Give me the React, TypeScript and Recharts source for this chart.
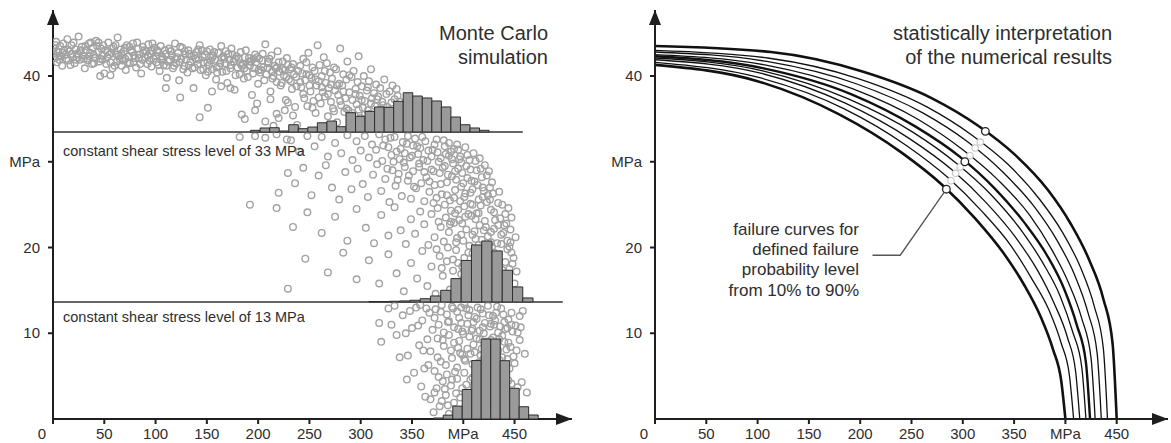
import React from "react";
import {
  ComposedChart,
  Scatter,
  Line,
  XAxis,
  YAxis,
  ReferenceArea,
  ReferenceLine,
  ReferenceDot,
} from "recharts";

// axis ticks
const xTicks = [0, 50, 100, 150, 200, 250, 300, 350, 400, 450];
const xTickLabels = ["0", "50", "100", "150", "200", "250", "300", "350", "MPa", "450"];
const yTicks = [10, 20, 30, 40];
const yTickLabels = ["10", "20", "MPa", "40"];

// constant shear stress levels (drawn positions) and their line ends
const levelHigh = 33.47;
const levelLow = 13.65;
const levelHighEnd = 458;
const levelLowEnd = 497;

// Monte Carlo points (normal stress, shear stress)
const pointsBand: [number, number][] = [
  [1,43.2],[2,42.1],[3,44.0],[4,41.6],[5,42.8],[7,43.5],[8,42.3],[9,41.2],[11,43.0],[12,42.5],[14,44.3],[15,41.8],[16,42.9],[18,43.6],[19,42.2],[21,41.5],[22,43.1],[24,42.6],[25,44.6],[26,41.9],[28,43.4],[29,42.4],[31,40.9],[32,43.0],[33,42.0],[35,43.8],[36,42.7],[38,41.4],[39,43.3],[41,42.1],[42,44.1],[44,42.8],[45,41.7],[47,43.2],[48,42.4],[50,40.3],
  [51,43.0],[53,42.2],[54,43.9],[56,41.6],[57,42.7],[59,43.4],[60,41.2],[62,42.5],[63,44.5],[65,42.0],[66,43.1],[68,41.8],[69,42.9],[71,40.7],[72,43.6],[74,42.3],[75,41.5],[77,42.8],[78,43.8],[80,42.1],[81,41.0],[83,43.2],[84,42.5],[86,40.3],[87,41.9],[89,43.0],[90,42.2],[92,41.4],[93,43.7],[95,42.6],[96,41.1],[98,42.0],[99,43.3],
  [101,41.6],[102,42.8],[104,40.6],[105,43.5],[107,42.1],[108,41.3],[110,42.6],[111,39.8],[113,43.2],[114,41.9],[116,42.4],[117,40.9],[119,43.8],[120,41.5],[122,42.7],[123,39.5],[125,42.0],[126,43.3],[128,41.2],[129,42.5],[131,40.4],[132,43.0],[134,41.7],[135,42.3],[137,38.6],[138,41.0],[140,42.8],[141,41.4],[143,43.6],[144,40.7],[146,42.2],[147,41.6],[149,40.1],[150,42.9],
  [152,41.3],[153,43.1],[155,40.8],[156,42.4],[158,41.9],[159,39.6],[161,42.7],[162,41.1],[164,43.5],[165,40.5],[167,42.0],[168,41.5],[170,39.2],[171,42.6],[173,40.9],[174,43.2],[176,41.7],[177,38.4],[179,42.3],[180,41.0],[182,40.2],[183,42.8],[185,41.4],[186,39.7],[188,43.0],[189,40.6],[191,42.1],[192,41.2],[194,37.8],[195,40.3],[197,42.5],[198,41.6],[200,39.1],
  [201,42.0],[203,40.7],[204,41.8],[206,39.5],[207,43.7],[209,40.9],[210,41.5],[212,38.2],[213,42.4],[215,40.0],[216,41.2],[218,39.3],[219,42.9],[221,40.5],[222,38.9],[224,41.7],[225,40.1],[227,37.2],[228,42.1],[230,39.6],[231,40.8],[233,38.5],[234,41.4],[236,36.4],[237,39.9],[239,40.6],
  [0.5,42.6],[3.5,42.9],[6,41.9],[10,43.8],[13,42.0],[17,41.3],[20,43.9],[23,42.2],[27,43.0],[30,42.0],[34,41.8],[37,43.9],[40,41.5],[43,43.5],[46,42.0],[49,43.6],[52,41.4],[55,42.5],[58,40.9],[61,43.6],[64,42.3],[67,41.2],[70,43.3],[73,41.6],[76,43.0],[79,42.4],[82,43.9],[85,41.4],[88,42.7],[91,42.9],[94,41.8],[97,43.8],[100,42.4],[103,41.3],[106,42.3],[109,43.0],[112,41.7],[115,42.9],[118,41.2],[121,42.2],[124,43.4],[127,40.8],[130,41.9],[133,42.6],[136,40.9],[139,42.0],[142,41.9],[145,43.0],[148,42.5],[151,40.5],[154,41.8],[157,42.8],[160,40.4],[163,41.5],[166,42.3],[169,40.6],[172,41.9],[175,42.5],[178,40.1],[181,42.0],[184,41.2],[187,42.2],[190,39.9],[193,41.7],[196,40.9],[199,42.2],[202,40.4],[205,41.0],[208,40.2],[211,42.0],[214,39.7],[217,40.9],[220,41.6],[223,39.2],[226,40.7],[229,41.3],[232,39.4],[235,40.2],
  [2.5,43.6],[6.5,42.4],[9.5,42.7],[14.5,43.1],[18.5,42.6],[22.5,41.9],[26.5,42.9],[31.5,43.5],[35.5,42.3],[39.5,42.5],[44.5,43.9],[48.5,41.9],[53.5,42.8],[57.5,43.2],[62.5,41.7],[66.5,42.6],[70.5,42.0],[74.5,43.4],[78.5,41.6],[83.5,42.1],[87.5,43.4],[92.5,42.4],[96.5,42.9],[101.5,43.0],[105.5,41.9],[110.5,41.2],[114.5,42.9],[119.5,42.0],[123.5,41.6],[128.5,42.9],[132.5,41.3],[137.5,42.4],[141.5,43.1],[146.5,40.8],[150.5,41.6],[155.5,42.2],[159.5,41.0],[164.5,42.1],[168.5,42.9],[173.5,41.3],[177.5,42.0],[182.5,41.5],[186.5,40.9],[191.5,41.7],[195.5,42.0],[200.5,40.7],[204.5,42.6],[209.5,41.7],[213.5,40.5],[218.5,41.0],[223.5,40.8],[227.5,39.9],[232.5,41.0],[237.5,38.8],
  [46,40.0],[56,40.1],[110,38.6],[124,37.5],[143,35.2],[151,36.3],[155,38.2],[164,38.8],[173,38.6],[184,35.5],[187,35.0],[197,36.0],[199,36.8],[207,34.7],[212,37.3],[218,35.6],[220,35.1],[226,36.0],[229,36.9],[234,35.4],[238,34.3],
];

const pointsUpper: [number, number][] = [
  [241,41.2],[242,38.7],[243,40.3],[244,42.0],[245,37.4],[246,39.5],[247,41.6],[248,36.5],[249,42.7],[250,40.1],[251,38.2],[252,39.8],[253,41.0],[254,37.1],[255,40.6],[256,35.7],[257,38.9],[258,43.6],[259,39.4],[260,41.3],[261,36.8],[262,40.0],[263,38.1],[264,42.2],[265,37.6],[266,39.2],[267,41.5],[268,35.3],[269,38.6],[270,40.4],[271,37.0],[272,39.7],[273,36.2],[274,41.0],[275,38.3],[276,40.8],[277,34.6],[278,37.8],[279,39.1],[280,43.2],[281,36.6],[282,38.9],[283,40.2],[284,35.8],[285,37.4],[286,39.6],[287,41.7],[288,36.0],[289,38.1],[290,34.9],[291,39.9],[292,37.2],[293,40.6],[294,35.4],[295,38.5],[296,36.7],[297,39.3],[298,42.3],[299,37.7],[300,35.1],[301,38.8],[302,36.3],[303,40.0],[304,37.1],[305,34.4],[306,38.3],[307,36.0],[308,39.4],[309,35.6],[310,40.8],[311,37.4],[312,34.1],[313,38.0],[314,36.5],[315,39.0],[316,35.2],[317,37.6],[318,34.0],[319,38.6],[320,36.1],[321,37.0],[322,34.8],[323,39.6],[324,35.7],[325,37.9],[326,36.4],[327,34.3],[328,38.2],[329,35.0],[330,36.9],[331,38.9],[332,34.6],[333,37.3],[334,35.5],[335,38.5],[336,36.2],[337,34.1],[338,37.0],[340,35.3],[342,36.6],[344,34.5],
  [241,39.3],[244,37.9],[247,40.2],[250,38.9],[253,36.3],[256,39.6],[259,37.5],[262,38.7],[265,40.6],[268,37.9],[271,39.0],[274,35.9],[277,38.9],[280,37.1],[283,38.2],[286,36.2],[289,40.1],[292,35.7],[295,37.9],[298,36.1],[301,37.2],[304,35.5],[307,38.7],[310,36.8],[313,35.4],[316,37.3],[319,35.3],[322,36.6],[325,34.5],[328,36.0],[331,35.8],[334,34.2],[336,37.7],[339,35.9],[341,34.6],
  [182,32.9],[197,33.0],[207,32.8],[215,34.2],[218,33.2],[228,32.6],
];

const pointsMiddle: [number, number][] = [
  [232,32.5],[240,31.2],[248,33.0],[255,31.8],[262,32.9],[268,30.6],[275,32.2],[281,31.0],[287,33.1],[292,30.2],[296,32.4],[300,31.3],[304,33.0],[308,30.5],[311,32.0],[315,31.4],[318,33.2],[321,30.1],[324,32.6],[327,31.7],[330,30.8],[333,32.9],[335,31.2],[338,30.3],[341,32.3],[343,31.0],[346,33.0],[348,30.5],[351,31.9],[353,32.7],[356,30.9],[358,31.6],[361,30.2],[363,32.4],[366,31.3],[369,30.6],[372,32.0],[375,31.1],[378,30.4],[382,31.8],[386,30.7],[391,31.5],[396,30.3],
  [220,26.4],[229,28.7],[236,27.5],[244,29.3],[252,26.1],[259,28.4],[266,29.6],[272,27.0],[279,25.6],[285,28.8],[291,26.8],[297,29.2],[302,27.4],[307,25.9],[312,28.5],[316,29.7],[320,26.6],[324,28.0],[328,25.3],[331,29.0],[334,27.2],[337,28.6],[340,26.0],[343,29.4],[346,27.8],[349,25.7],[351,28.9],[354,26.9],[357,29.8],[359,27.5],[362,25.4],[364,28.2],[367,26.5],[369,29.1],[372,27.3],[374,25.8],[377,28.7],[379,26.2],[382,29.5],[384,27.6],[387,25.5],[389,28.3],[392,26.7],[395,29.2],[398,27.1],[401,25.9],[404,28.1],[407,26.4],[411,27.7],[415,25.6],[419,27.0],[424,26.1],[429,26.3],
  [192,25.0],[218,24.6],[234,22.4],[248,24.1],[262,21.7],[275,23.6],[287,20.8],[296,24.5],[305,22.3],[313,20.5],[320,23.8],[327,21.4],[333,24.7],[339,22.0],[344,20.4],[349,23.3],[353,21.6],[358,24.2],[362,22.7],[366,20.3],[369,23.9],[372,21.2],[375,24.6],[378,22.4],[381,20.7],[383,23.5],[386,21.8],[388,24.3],[391,22.9],[393,20.6],[396,23.2],[398,21.5],[401,24.8],[403,22.1],[406,20.2],[408,23.7],[411,21.9],[413,24.0],[416,22.6],[418,20.9],[421,23.1],[424,21.3],[427,24.4],[430,22.2],[433,20.5],[436,23.4],[439,21.7],[442,22.8],[446,20.6],
  [229,15.2],[246,18.7],[268,17.1],[283,19.4],[296,16.3],[308,18.5],[318,15.8],[327,19.2],[335,17.0],[342,14.9],[349,18.2],[355,16.4],[360,19.6],[365,15.5],[369,17.8],[373,14.6],[377,19.0],[380,16.7],[384,18.4],[387,15.1],[390,17.3],[393,19.7],[396,14.4],[398,16.9],[401,18.8],[404,15.7],[406,17.6],[409,19.3],[411,14.8],[414,16.2],[416,18.1],[419,15.4],[421,19.5],[423,17.0],[426,14.5],[428,18.6],[431,16.0],[433,19.0],[436,15.2],[438,17.4],[441,18.3],[444,16.1],[447,19.4],[449,14.9],[452,17.2],
  [322,31.9],[326,29.2],[329,32.8],[332,30.0],[336,27.9],[339,31.5],[342,29.9],[345,32.1],[347,28.4],[350,30.7],[352,27.1],[355,31.8],[357,29.4],[360,32.9],[362,28.8],[365,30.1],[367,27.7],[370,31.4],[371,28.9],[374,32.6],[376,30.0],[378,27.4],[380,29.3],[381,32.5],[383,30.9],[385,28.5],[388,31.2],[390,29.8],[393,27.9],[394,32.0],[397,30.6],[399,28.7],[402,31.7],[403,29.5],[406,30.2],[408,27.8],[410,31.0],[413,29.0],[416,30.4],[418,28.2],[421,29.6],[425,28.9],[428,27.6],
  [371,25.2],[374,19.8],[376,23.0],[379,17.6],[382,25.0],[385,20.0],[387,22.7],[390,18.6],[392,24.0],[394,21.1],[397,25.4],[399,17.8],[400,20.8],[402,23.6],[405,19.4],[407,25.1],[409,21.5],[410,16.7],[412,23.3],[415,20.3],[417,24.9],[418,17.9],[420,22.0],[422,15.9],[423,25.3],[425,19.0],[427,21.8],[429,16.9],[430,24.1],[432,18.2],[434,22.6],[435,14.9],[437,20.4],[438,25.0],[440,16.6],[441,23.9],[443,19.8],[445,17.5],[446,22.1],[448,18.1],[450,15.8],[451,21.2],[444,24.6],[435,26.5],
  [386,32.2],[389,30.3],[392,28.9],[395,31.4],[398,29.9],[400,27.5],[404,30.8],[407,29.1],[409,26.8],[412,30.1],[414,27.3],[417,29.2],[420,26.6],[423,28.4],[426,27.0],[384,26.1],[388,23.0],[391,25.8],[395,24.4],[399,22.8],[402,26.3],[405,23.9],[409,25.0],[412,21.0],[415,24.0],[419,25.9],[422,22.4],[426,25.6],[428,20.1],[431,23.2],[434,25.2],[437,21.5],[440,22.6],[443,20.8],[447,23.5],[395,18.2],[399,15.2],[403,17.0],[407,14.8],[412,18.5],[415,15.0],[419,17.1],[424,16.2],[427,20.6],[430,19.4],[434,17.8],[437,16.4],[442,15.3],[445,20.1],[449,18.8],
];

const pointsLower: [number, number][] = [
  [318,11.2],[327,12.9],[335,9.8],[341,12.1],[346,7.4],[350,10.6],[354,13.0],[357,8.6],[360,11.5],[362,5.9],[365,9.3],[367,12.4],
  [320,9.0],[330,11.0],[338,7.2],[344,10.0],[348,12.6],[352,5.4],[356,10.9],[359,3.8],[361,8.0],[364,12.9],[366,6.3],[363,2.6],[358,13.3],[345,4.6],[333,13.2],
  [370,10.4],[373,12.8],[376,11.0],[379,13.3],[381,10.1],[384,12.2],[386,11.4],[389,13.1],[391,10.7],[394,12.5],[396,11.8],[399,10.2],[401,13.4],[404,11.1],[406,12.7],[409,10.5],[411,11.9],[414,13.0],[416,10.3],[419,12.3],[421,11.2],[424,13.2],[426,10.8],[429,12.0],[431,11.5],[434,10.1],[437,12.9],[440,11.3],[443,10.6],[447,12.4],[451,10.9],[455,12.0],
  [368,7.9],[372,5.6],[375,9.4],[378,6.7],[381,8.5],[384,5.2],[386,9.8],[389,7.1],[391,8.9],[394,6.0],[396,9.1],[399,7.5],[401,5.4],[404,8.2],[406,9.6],[409,6.4],[411,7.8],[414,5.7],[416,9.3],[419,6.9],[421,8.6],[424,5.1],[426,7.3],[429,9.5],[431,6.2],[434,8.0],[437,5.8],[440,9.0],[443,7.0],[446,8.4],[450,6.5],[455,9.2],[460,7.6],
  [368,2.3],[371,0.8],[374,3.6],[377,1.5],[380,4.4],[383,2.8],[386,0.6],[388,3.9],[391,1.9],[394,4.7],[397,2.5],[400,1.1],[403,4.0],[406,3.0],[409,4.8],[412,2.0],[415,3.4],[418,4.5],[422,2.7],[426,4.2],[431,3.3],[436,4.6],[441,2.9],[447,4.1],[453,3.7],
  [372,11.8],[375,7.2],[378,12.5],[380,9.2],[383,6.3],[385,11.3],[388,8.0],[390,12.9],[392,5.5],[395,10.5],[397,7.7],[398,13.0],[400,9.9],[402,6.8],[405,12.1],[407,4.6],[408,10.3],[410,8.7],[413,11.7],[415,6.6],[417,12.8],[418,8.2],[420,10.0],[423,7.0],[425,12.1],[427,9.2],[428,5.4],[430,11.0],[432,8.5],[433,13.1],[435,6.9],[436,10.8],[438,9.7],[439,12.2],[442,8.1],[444,11.6],[445,5.9],[448,10.2],[452,8.0],[456,10.7],[458,12.6],
  [372,3.1],[376,4.9],[379,2.1],[382,3.5],[385,1.6],[389,4.6],[393,3.0],[396,0.9],[399,3.6],[404,2.4],[410,3.8],[416,1.2],[420,4.0],[429,2.3],[433,4.9],[439,3.9],[444,4.5],[450,2.2],[457,4.3],[462,3.1],
  [395,8.3],[398,11.2],[401,7.0],[403,12.9],[407,7.6],[410,11.3],[412,5.1],[413,9.4],[417,7.4],[419,10.7],[422,9.0],[425,6.0],[427,11.1],[430,7.8],[432,12.4],[435,9.3],[438,7.2],[441,10.5],[444,8.9],[447,11.0],[449,7.3],[453,10.1],
];

// histograms: bin centres and bar heights (in axis units above the base level)
const histHighBinWidth = 9.3;
const histHighX = [197.3, 206.6, 215.9, 225.2, 234.5, 243.8, 253.1, 262.4, 271.7, 281.0, 290.3, 299.6, 308.9, 318.2, 327.5, 336.8, 346.1, 355.4, 364.7, 374.0, 383.3, 392.6, 401.9, 411.2, 420.5];
const histHighH = [0.2, 0.47, 0.5, 0.12, 0.85, 0.39, 0.58, 1.08, 1.28, 0.62, 2.25, 1.83, 2.41, 2.92, 2.88, 3.58, 4.58, 4.2, 3.97, 3.62, 2.92, 1.75, 0.85, 0.47, 0.2];

const histLowBinWidth = 10;
const histLowX = [313, 323, 333, 343, 353, 363, 373, 383, 393, 403, 413, 423, 433, 443, 453, 463];
const histLowH = [0.05, 0.05, 0.08, 0.12, 0.2, 0.38, 0.7, 1.36, 2.72, 4.84, 6.65, 7.11, 5.95, 3.7, 1.75, 0.47];

const histZeroBinWidth = 9.25;
const histZeroX = [375.9, 385.1, 394.4, 403.6, 412.9, 422.1, 431.4, 440.6, 449.9, 459.1, 468.4];
const histZeroH = [0.12, 0.45, 1.5, 3.44, 6.82, 9.33, 9.33, 6.8, 3.58, 1.43, 0.47];

// failure curves for probability levels 10% .. 90%
const curve10: [number, number][] = [[0,41.3],[100,39.4],[180,35.5],[240,31.1],[280,27.3],[312,23.4],[340,19.3],[360,15.6],[376,11.9],[388,8.1],[396,4.4],[400,0]];
const curve20: [number, number][] = [[0,41.6],[102,39.8],[184,36.2],[245,31.9],[286,28.1],[318,24.3],[347,20.2],[367,16.4],[384,12.7],[396,8.8],[404,5.0],[408,0]];
const curve30: [number, number][] = [[0,41.9],[104,40.3],[186,36.8],[248,32.7],[290,29.0],[323,25.2],[352,21.1],[373,17.3],[389,13.5],[402,9.5],[410,5.5],[414,0]];
const curve40: [number, number][] = [[0,42.1],[105,40.6],[189,37.3],[252,33.4],[294,29.8],[328,26.1],[357,22.0],[378,18.2],[395,14.3],[407,10.2],[416,6.0],[420,0]];
const curve50: [number, number][] = [[0,42.3],[106,40.9],[191,37.9],[254,34.1],[297,30.6],[331,26.9],[360,22.9],[382,19.1],[399,15.1],[411,11.0],[420,6.6],[424,0]];
const curve60: [number, number][] = [[0,42.5],[107,41.3],[193,38.5],[257,34.9],[300,31.4],[335,27.8],[365,23.8],[386,19.9],[403,15.9],[416,11.7],[425,7.1],[429,0]];
const curve70: [number, number][] = [[0,42.8],[109,41.7],[196,39.1],[261,35.7],[305,32.3],[339,28.8],[370,24.7],[392,20.8],[409,16.8],[422,12.4],[431,7.6],[435,0]];
const curve80: [number, number][] = [[0,43.0],[110,42.1],[198,39.7],[265,36.4],[309,33.1],[344,29.7],[375,25.6],[397,21.8],[415,17.6],[428,13.2],[437,8.2],[441,0]];
const curve90: [number, number][] = [[0,43.5],[113,42.8],[203,40.5],[270,37.4],[315,34.2],[351,30.8],[383,26.7],[405,22.8],[423,18.6],[437,14.0],[446,8.8],[450,0]];

const markersMain: [number, number][] = [[284,26.8],[302,30.0],[322,33.55]];
const markersFaint: [number, number][] = [[288.5,27.8],[293,28.65],[297.5,29.4],[307,30.7],[312,31.6],[317,32.3]];
const leaderLine: [number, number][] = [[284,26.8],[239,19.1],[212,19.1]];

const FONT = "'Liberation Sans', Arial, Helvetica, sans-serif";
const AXIS = "#1e1e1e";
const TEXT = "#2e2e2e";

const toXY = (pts: [number, number][]) => pts.map(([x, y]) => ({ x, y }));

const XTick = (props: any) => {
  const { x, y, payload } = props;
  const i = xTicks.indexOf(payload.value);
  const shift = payload.value === 0 ? -11 : 0;
  return (
    <text x={x + shift} y={y + 13} textAnchor="middle" fontSize={15} fontFamily={FONT} fill={TEXT}>
      {xTickLabels[i]}
    </text>
  );
};

const YTick = (props: any) => {
  const { x, y, payload } = props;
  const i = yTicks.indexOf(payload.value);
  return (
    <text x={x} y={y + 5} textAnchor="end" fontSize={15} fontFamily={FONT} fill={TEXT}>
      {yTickLabels[i]}
    </text>
  );
};

const arrowRight = (p: any) => (
  <path d={`M${p.cx},${p.cy} L${p.cx - 16},${p.cy - 6} L${p.cx - 16},${p.cy + 6} Z`} fill={AXIS} />
);
const arrowUp = (p: any) => (
  <path d={`M${p.cx},${p.cy} L${p.cx - 6},${p.cy + 15} L${p.cx + 6},${p.cy + 15} Z`} fill={AXIS} />
);

const hollowGray = (p: any) => (
  <circle cx={p.cx} cy={p.cy} r={3.3} fill="none" stroke="#a2a2a2" strokeWidth={1.4} />
);
const markerMain = (p: any) => (
  <circle cx={p.cx} cy={p.cy} r={3.8} fill="#fff" stroke="#222" strokeWidth={1.3} />
);
const markerFaint = (p: any) => (
  <circle cx={p.cx} cy={p.cy} r={3.2} fill="#fff" stroke="#c8c8c8" strokeWidth={1.1} />
);

function histBars(xs: number[], hs: number[], base: number, width: number, key: string) {
  return xs.map((c, i) => (
    <ReferenceArea
      key={`${key}-${i}`}
      x1={c - width / 2}
      x2={c + width / 2}
      y1={base}
      y2={base + hs[i]}
      fill="#9a9a9a"
      fillOpacity={1}
      stroke="#2e2e2e"
      strokeWidth={1}
      ifOverflow="visible"
      zIndex={700}
    />
  ));
}

function MonteCarloPanel() {
  const xMax = 506;
  const yMax = 47.7;
  return (
    <ComposedChart width={590} height={443} margin={{ top: 10, right: 18, bottom: 0, left: 0 }}>
      <XAxis
        type="number"
        dataKey="x"
        domain={[0, xMax]}
        ticks={xTicks}
        interval={0}
        allowDataOverflow
        height={24}
        tickSize={5}
        tick={<XTick />}
        axisLine={{ stroke: AXIS, strokeWidth: 2 }}
        tickLine={{ stroke: AXIS, strokeWidth: 2 }}
      />
      <YAxis
        type="number"
        dataKey="y"
        domain={[0, yMax]}
        ticks={yTicks}
        interval={0}
        allowDataOverflow
        width={53}
        tickSize={5}
        tickMargin={8}
        tick={<YTick />}
        axisLine={{ stroke: AXIS, strokeWidth: 2 }}
        tickLine={{ stroke: AXIS, strokeWidth: 2 }}
      />
      <Scatter data={toXY(pointsBand)} shape={hollowGray} isAnimationActive={false} />
      <Scatter data={toXY(pointsUpper)} shape={hollowGray} isAnimationActive={false} />
      <Scatter data={toXY(pointsMiddle)} shape={hollowGray} isAnimationActive={false} />
      <Scatter data={toXY(pointsLower)} shape={hollowGray} isAnimationActive={false} />
      <ReferenceLine
        segment={[{ x: 0, y: levelHigh }, { x: levelHighEnd, y: levelHigh }]}
        stroke="#333"
        strokeWidth={1.5}
        ifOverflow="visible"
      />
      <ReferenceLine
        segment={[{ x: 0, y: levelLow }, { x: levelLowEnd, y: levelLow }]}
        stroke="#333"
        strokeWidth={1.5}
        ifOverflow="visible"
      />
      {histBars(histHighX, histHighH, levelHigh, histHighBinWidth, "hh")}
      {histBars(histLowX, histLowH, levelLow, histLowBinWidth, "hl")}
      {histBars(histZeroX, histZeroH, 0, histZeroBinWidth, "hz")}
      <ReferenceDot x={xMax} y={0} ifOverflow="visible" shape={arrowRight} />
      <ReferenceDot x={0} y={yMax} ifOverflow="visible" shape={arrowUp} />
    </ComposedChart>
  );
}

const curves = [
  { data: curve10, w: 2.6 },
  { data: curve20, w: 1.3 },
  { data: curve30, w: 1.3 },
  { data: curve40, w: 1.3 },
  { data: curve50, w: 2.4 },
  { data: curve60, w: 1.3 },
  { data: curve70, w: 1.3 },
  { data: curve80, w: 1.3 },
  { data: curve90, w: 2.6 },
];

function InterpretationPanel() {
  const xMax = 500;
  const yMax = 47.7;
  return (
    <ComposedChart width={571} height={443} margin={{ top: 10, right: 3, bottom: 0, left: 0 }}>
      <XAxis
        type="number"
        dataKey="x"
        domain={[0, xMax]}
        ticks={xTicks}
        interval={0}
        allowDataOverflow
        height={24}
        tickSize={5}
        tick={<XTick />}
        axisLine={{ stroke: AXIS, strokeWidth: 2 }}
        tickLine={{ stroke: AXIS, strokeWidth: 2 }}
      />
      <YAxis
        type="number"
        dataKey="y"
        domain={[0, yMax]}
        ticks={yTicks}
        interval={0}
        allowDataOverflow
        width={55}
        tickSize={5}
        tickMargin={8}
        tick={<YTick />}
        axisLine={{ stroke: AXIS, strokeWidth: 2 }}
        tickLine={{ stroke: AXIS, strokeWidth: 2 }}
      />
      {curves.map((c, i) => (
        <Line
          key={i}
          data={toXY(c.data)}
          dataKey="y"
          type="monotone"
          dot={false}
          activeDot={false}
          stroke="#111"
          strokeWidth={c.w}
          isAnimationActive={false}
        />
      ))}
      <Line
        data={toXY(leaderLine)}
        dataKey="y"
        type="linear"
        dot={false}
        activeDot={false}
        stroke="#555"
        strokeWidth={1.3}
        isAnimationActive={false}
      />
      <Scatter data={toXY(markersFaint)} shape={markerFaint} isAnimationActive={false} />
      <Scatter data={toXY(markersMain)} shape={markerMain} isAnimationActive={false} />
      <ReferenceDot x={xMax} y={0} ifOverflow="visible" shape={arrowRight} />
      <ReferenceDot x={0} y={yMax} ifOverflow="visible" shape={arrowUp} />
    </ComposedChart>
  );
}

const textBase: React.CSSProperties = {
  position: "absolute",
  fontFamily: FONT,
  color: TEXT,
  whiteSpace: "nowrap",
};

export default function App() {
  return (
    <div style={{ position: "absolute", left: 0, top: 0, width: 1171, height: 443, background: "#fff", overflow: "hidden" }}>
      <div style={{ position: "absolute", left: 0, top: 0 }}>
        <MonteCarloPanel />
      </div>
      <div style={{ position: "absolute", left: 600, top: 0 }}>
        <InterpretationPanel />
      </div>
      <div style={{ ...textBase, right: 623, top: 21, fontSize: 20, lineHeight: "24px", textAlign: "right" }}>
        Monte Carlo
        <br />
        simulation
      </div>
      <div style={{ ...textBase, left: 63, top: 142, fontSize: 14.5, lineHeight: "18px" }}>
        constant shear stress level of 33 MPa
      </div>
      <div style={{ ...textBase, left: 63, top: 308, fontSize: 14.5, lineHeight: "18px" }}>
        constant shear stress level of 13 MPa
      </div>
      <div style={{ ...textBase, right: 59, top: 21, fontSize: 20, lineHeight: "24px", textAlign: "right" }}>
        statistically interpretation
        <br />
        of the numerical results
      </div>
      <div style={{ ...textBase, right: 312, top: 220, fontSize: 17, lineHeight: "20.2px", textAlign: "right" }}>
        failure curves for
        <br />
        defined failure
        <br />
        probability level
        <br />
        from 10% to 90%
      </div>
    </div>
  );
}
